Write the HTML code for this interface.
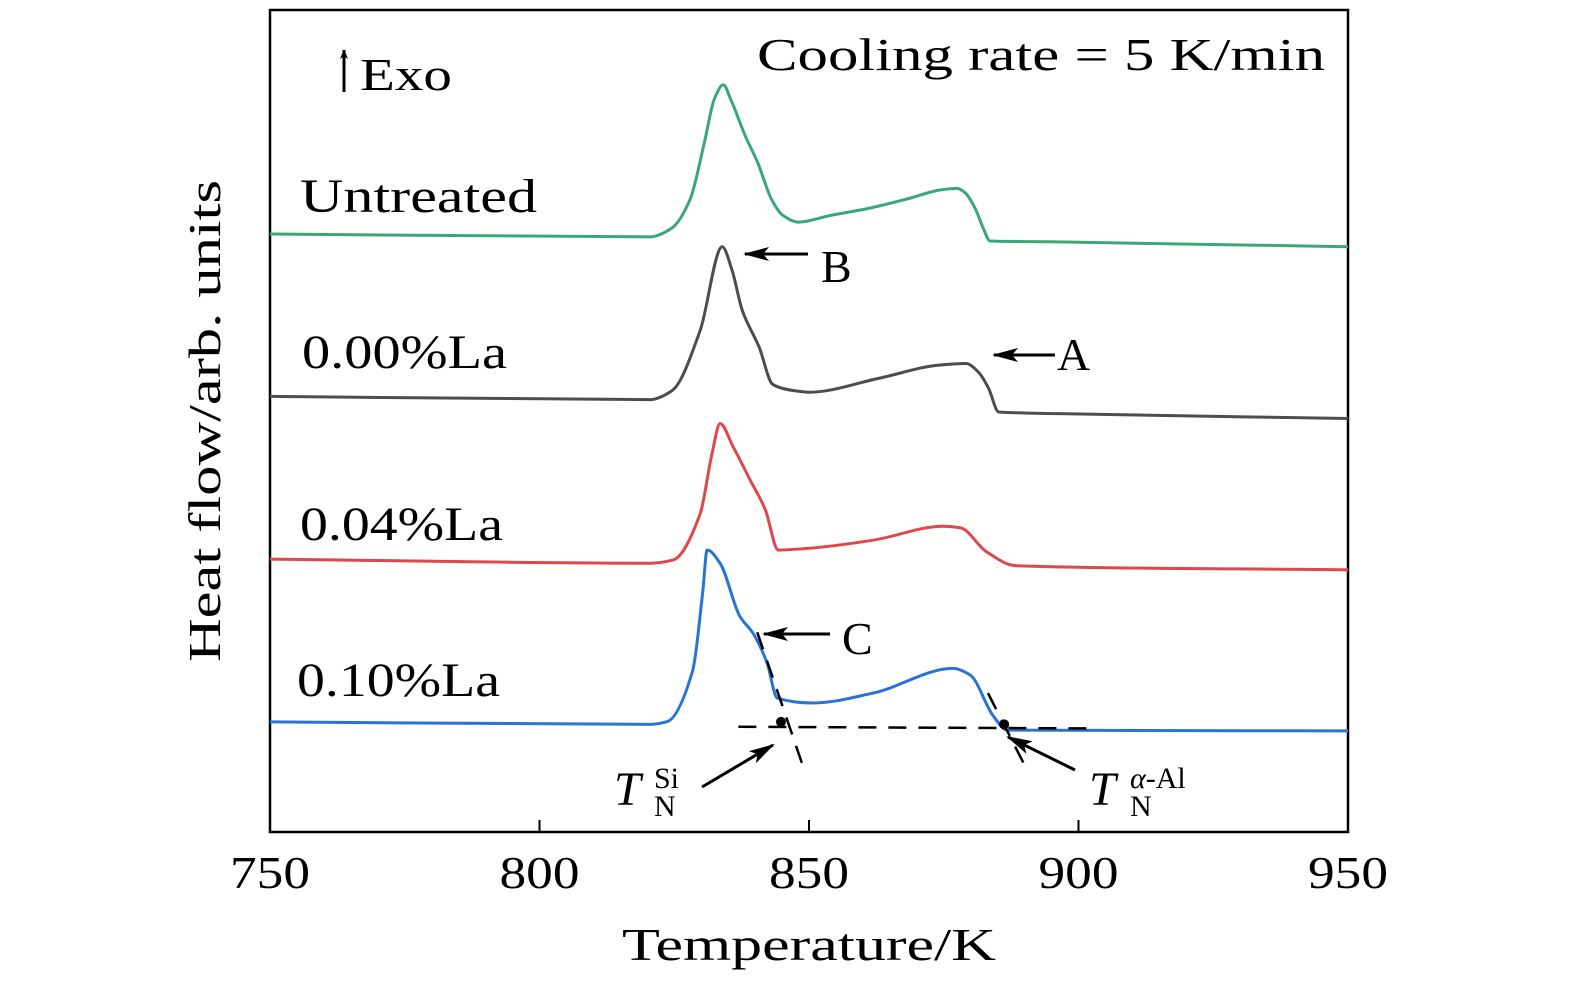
<!DOCTYPE html>
<html><head><meta charset="utf-8"><style>
html,body{margin:0;padding:0;background:#fff;}
svg{display:block;}
text{font-family:"Liberation Serif",serif;fill:#000;}
</style></head><body>
<svg id="chart" width="1575" height="984" viewBox="0 0 1575 984" xmlns="http://www.w3.org/2000/svg">
<defs>
<marker id="ah" markerWidth="10" markerHeight="8" refX="9" refY="4" orient="auto" markerUnits="userSpaceOnUse"><path d="M0,0 L10,4 L0,8 L3,4 Z" fill="#000"/></marker>
<marker id="ah2" markerWidth="26" markerHeight="14" refX="24" refY="7" orient="auto" markerUnits="userSpaceOnUse"><path d="M0,0 L26,7 L0,14 L6,7 Z" fill="#000"/></marker></defs>
<rect x="270" y="10" width="1078" height="822" fill="none" stroke="#000" stroke-width="2.5"/>
<g id="ticks"></g>
<g id="series"></g>
<g id="annot"></g>
<text x="757" y="70" font-size="46" textLength="568" lengthAdjust="spacingAndGlyphs">Cooling rate = 5 K/min</text>
<line x1="344" y1="92" x2="344" y2="50" stroke="#000" stroke-width="3" marker-end="url(#ah)"/>
<text x="360" y="90" font-size="46" textLength="92" lengthAdjust="spacingAndGlyphs">Exo</text>
<text x="300" y="212" font-size="48" textLength="237" lengthAdjust="spacingAndGlyphs">Untreated</text>
<text x="302" y="368" font-size="48" textLength="205" lengthAdjust="spacingAndGlyphs">0.00%La</text>
<text x="300" y="540" font-size="48" textLength="203" lengthAdjust="spacingAndGlyphs">0.04%La</text>
<text x="297" y="696" font-size="48" textLength="203" lengthAdjust="spacingAndGlyphs">0.10%La</text>
<text x="622" y="960" font-size="46" textLength="374" lengthAdjust="spacingAndGlyphs">Temperature/K</text>
<text transform="translate(220,662) rotate(-90)" font-size="46" textLength="482" lengthAdjust="spacingAndGlyphs">Heat flow/arb. units</text>
<text x="821" y="282" font-size="46">B</text>
<text x="1057" y="370" font-size="46">A</text>
<text x="842" y="654" font-size="46">C</text>
<text x="614" y="805" font-size="48" font-style="italic">T</text>
<text x="654" y="788" font-size="30">Si</text>
<text x="654" y="816" font-size="30">N</text>
<text x="1089" y="805" font-size="48" font-style="italic">T</text>
<text x="1130" y="788" font-size="30"><tspan font-style="italic">α</tspan>-Al</text>
<text x="1130" y="816" font-size="30">N</text>
</svg>
<script>
const xTicks=[750,800,850,900,950];
const tUntreated=[750,820.5,824.6,827.9,830.7,832.4,834.1,835.5,838.1,840.5,843.1,845,848,853.9,861.3,868.7,874.3,877.5,878.9,880.8,882.3,883.6,894.7,950];
const vUntreated=[72.75,72.4,73.5,76.9,84.2,89.1,90.9,89.1,84.8,81.4,76.9,75.1,74.2,75.0,75.9,77.1,78.1,78.3,77.8,75.9,73.5,71.9,71.8,71.2];
const tLa000=[750,820.5,824.6,829.8,833.9,835.7,837.6,840.8,843.2,844.9,847.2,850,863,874.1,879.1,881.5,883.3,885.2,896.3,950];
const vLa000=[53.0,52.6,53.7,61.0,71.2,68.4,63.5,58.9,54.5,54.0,53.7,53.5,55.2,56.8,57.0,55.9,54.0,51.1,50.9,50.3];
const tLa004=[750,820.5,824.8,829.8,832.0,833.5,835.9,839.1,841.9,844.3,849.7,861.9,874.9,878.1,882.9,888.3,950];
const vLa004=[33.2,32.7,33.1,38.7,46.0,49.7,46.9,42.8,39.2,34.3,34.5,35.5,37.2,37.0,34.1,32.4,31.9];
const tLa010=[750,820.5,823.6,828.4,830.3,831.1,833.5,837.2,839.6,842.2,844.1,850.8,861.9,876.7,879.9,884.2,886.8,950];
const vLa010=[13.4,13.1,13.4,19.6,29.3,34.3,32.7,26.2,24.2,20.6,16.3,15.7,16.9,19.9,19.1,14.1,12.4,12.3];
const colors={u:'#3aa876',a:'#4d4d4d',b:'#e0474c',c:'#2a73d6'};
const X=t=>270+(t-750)*(1078/200);
const Y=v=>832-v*8.22;
const NS='http://www.w3.org/2000/svg';
function el(tag,attrs,parent){const e=document.createElementNS(NS,tag);for(const k in attrs)e.setAttribute(k,attrs[k]);parent.appendChild(e);return e;}
function smooth(ts,vs){
 const x=ts.map(X),y=vs.map(Y),n=x.length;
 const d=[],m=new Array(n);
 for(let i=0;i<n-1;i++)d.push((y[i+1]-y[i])/(x[i+1]-x[i]));
 m[0]=d[0];m[n-1]=d[n-2];
 for(let i=1;i<n-1;i++){ if(d[i-1]*d[i]<=0)m[i]=0; else { const h0=x[i]-x[i-1],h1=x[i+1]-x[i];
  const w1=2*h1+h0,w2=h1+2*h0; m[i]=(w1+w2)/(w1/d[i-1]+w2/d[i]); } }
 let p='M'+x[0]+','+y[0];
 for(let i=0;i<n-1;i++){const h=(x[i+1]-x[i])/3;
  p+=' C'+(x[i]+h)+','+(y[i]+m[i]*h)+' '+(x[i+1]-h)+','+(y[i+1]-m[i+1]*h)+' '+x[i+1]+','+y[i+1];}
 return p;}
const tg=document.getElementById('ticks');
xTicks.forEach(t=>{
 if(t>750&&t<950){const l=el('line',{x1:X(t),x2:X(t),y1:832,y2:820,stroke:'#000','stroke-width':2},tg);
 
 }
 const tx=el('text',{x:X(t),y:888,'font-size':46,'text-anchor':'middle',textLength:80,lengthAdjust:'spacingAndGlyphs'},tg);tx.textContent=t;
 
 
});
const sg=document.getElementById('series');
[[tUntreated,vUntreated,colors.u,'curve-untreated'],[tLa000,vLa000,colors.a,'curve-0-00-la'],[tLa004,vLa004,colors.b,'curve-0-04-la'],[tLa010,vLa010,colors.c,'curve-0-10-la']].forEach(s=>{
 const p=el('path',{d:smooth(s[0],s[1]),fill:'none',stroke:s[2],'stroke-width':3,'stroke-linejoin':'round'},sg);
 
 
});
const ag=document.getElementById('annot');
function ln(x1,y1,x2,y2,name,extra){const l=el('line',Object.assign({x1,y1,x2,y2,stroke:'#000','stroke-width':3},extra||{}),ag);
 
 }
const dash={'stroke-dasharray':'18,12','stroke-width':2.5};
ln(X(836.9),Y(12.8),X(902),Y(12.6),'baseline-tangent',dash);
ln(X(840.4),Y(24.3),X(849.3),Y(7.2),'si-tangent',dash);
ln(X(883.2),Y(16.9),X(890.1),Y(8.0),'al-tangent',dash);
const d1=el('circle',{cx:X(844.8),cy:Y(13.4),r:5,fill:'#000'},ag);


const d2=el('circle',{cx:X(886.2),cy:Y(13.1),r:5,fill:'#000'},ag);


ln(808,254,745,254,'arrow-b',{'marker-end':'url(#ah2)'});
ln(1055,355,994,355,'arrow-a',{'marker-end':'url(#ah2)'});
ln(830,634,764,634,'arrow-c',{'marker-end':'url(#ah2)'});
ln(702,787,773,745,'arrow-tn-si',{'marker-end':'url(#ah2)'});
ln(1075,770,1008,737,'arrow-tn-al',{'marker-end':'url(#ah2)'});
</script>
</body></html>
